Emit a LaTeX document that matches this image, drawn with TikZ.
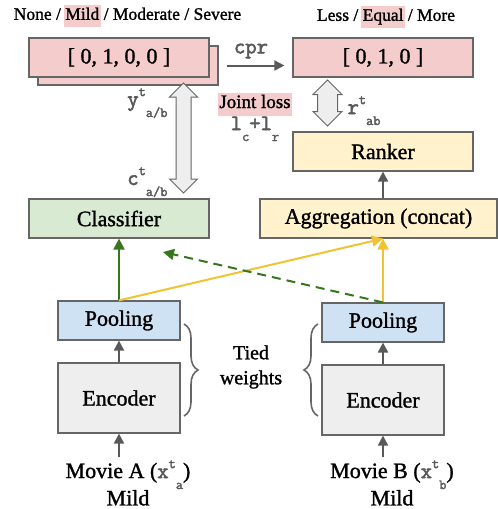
\documentclass[tikz,border=0pt]{standalone}
\usepackage{fontspec}
\setmainfont{Liberation Serif}[RawFeature={embolden=1.3}]
\setmonofont{Latin Modern Mono}[RawFeature={embolden=2.5}]
\usetikzlibrary{positioning,arrows.meta,shapes.arrows,decorations.pathreplacing}
\definecolor{pinkbox}{HTML}{F4CCCC}
\definecolor{greenbox}{HTML}{D9EAD3}
\definecolor{yellowbox}{HTML}{FFF2CC}
\definecolor{bluebox}{HTML}{CFE2F3}
\definecolor{graybox}{HTML}{EEEEEE}
\definecolor{edgegray}{HTML}{666666}
\definecolor{arrowgray}{HTML}{595959}
\definecolor{darkgreen}{HTML}{38761D}
\definecolor{gold}{HTML}{F1C232}
\newcommand{\hl}[1]{{\setlength{\fboxsep}{1.5pt}\kern-1.5pt\colorbox{pinkbox}{\strut #1}\kern-1.5pt}}
\newcommand{\tsup}[3]{\textcolor{arrowgray}{\texttt{#1}\raisebox{0.45em}{\fontsize{14}{14}\selectfont\texttt{#2}}\raisebox{-0.5em}{\fontsize{14}{14}\selectfont\texttt{#3}}}}

\begin{document}
\begin{tikzpicture}[x=1pt,y=-1pt,
		box/.style={draw=edgegray, line width=1.2pt, minimum width=180pt, minimum height=39pt, inner sep=0pt, font=\fontsize{22}{24}\selectfont},
		small box/.style={box, minimum width=122pt},
		gray arrow/.style={draw=arrowgray, line width=2pt, -{Triangle[length=10pt,width=10pt]}},
		loss arrow/.style={double arrow, draw=edgegray, line width=1pt, fill=graybox, rotate=90, double arrow head indent=0pt, text width=0pt}]
	\useasboundingbox (0,0) rectangle (498,509);
	% targets
	\node[box, fill=pinkbox] (clsBack) at (128,65.5) {};
	\node[box, fill=pinkbox] (clsOut) at (119,57.5) {[ 0, 1, 0, 0 ]};
	\node[box, fill=pinkbox] (rankOut) at (383,57.5) {[ 0, 1, 0 ]};
	\node[font=\fontsize{17.5}{19}\selectfont] (clsTitle) at (127.5,16) {None / \hl{Mild} / Moderate / Severe};
	\node[font=\fontsize{17.5}{19}\selectfont] (rankTitle) at (386,17) {Less / \hl{Equal} / More};
	% heads
	\node[box, fill=yellowbox] (ranker) at (383,151.5) {Ranker};
	\node[box, fill=greenbox] (classifier) at (119,218.5) {Classifier};
	\node[box, fill=yellowbox, minimum width=237pt] (agg) at (378.5,218.5) {Aggregation (concat)};
	% encoders
	\node[small box, fill=bluebox] (poolA) at (119,320.5) {Pooling};
	\node[small box, fill=bluebox] (poolB) at (383,322.5) {Pooling};
	\node[small box, fill=graybox, minimum height=70pt] (encA) at (119,398) {Encoder};
	\node[small box, fill=graybox, minimum height=70pt] (encB) at (383,400) {Encoder};
	\node[align=center, font=\fontsize{22}{25}\selectfont] (movA) at (128,483) {Movie A (\tsup{x}{t}{a})\\Mild};
	\node[align=center, font=\fontsize{22}{25}\selectfont] (movB) at (392,483) {Movie B (\tsup{x}{t}{b})\\Mild};
	\coordinate (inA) at (119,457);
	\coordinate (inB) at (383,457);
	\draw[gray arrow] (inA) -- (encA);
	\draw[gray arrow] (inB) -- (encB);
	\draw[gray arrow] (encA) -- (poolA);
	\draw[gray arrow] (encB) -- (poolB);
	\draw[gray arrow] (ranker.south |- agg.north) -- (ranker.south);
	% pooled features
	\coordinate (aggIn) at (poolB.north |- agg.south);
	\coordinate (dashEnd) at (163,252);
	\draw[line width=2pt, darkgreen, -{Triangle[length=11pt,width=11pt]}] (poolA.north) -- (classifier.south);
	\draw[line width=2pt, gold, -{Triangle[length=11pt,width=11pt]}] (poolA.north) -- (aggIn);
	\draw[line width=2pt, gold, -{Triangle[length=11pt,width=11pt]}] (poolB.north) -- (aggIn);
	\draw[line width=2pt, darkgreen, dash pattern=on 9pt off 6pt, -{Triangle[length=11pt,width=11pt]}] (poolB.north) -- (dashEnd);
	% tied weights
	\draw[edgegray, line width=1.6pt, decorate, decoration={brace, amplitude=14pt}] (184,324) -- (184,416);
	\draw[edgegray, line width=1.6pt, decorate, decoration={brace, amplitude=14pt}] (318,416) -- (318,324);
	\node[align=center, font=\fontsize{20}{25}\selectfont] (tied) at (251,367) {Tied\\weights};
	% losses
	\path (clsBack.east -| rankOut.west) coordinate (cprEnd);
	\draw[gray arrow] ([xshift=8pt]clsBack.east) -- ([xshift=-8pt]cprEnd);
	\node[font=\fontsize{22}{22}\selectfont\ttfamily, text=arrowgray] (cpr) at (251,51) {cpr};
	\node[loss arrow, minimum height=110pt, minimum width=27pt, inner sep=7pt, double arrow head extend=6.5pt] (clsLoss) at (183.5,138) {};
	\node[loss arrow, minimum height=46pt, minimum width=29pt, inner sep=9.5pt, double arrow head extend=4.5pt] (rankLoss) at (327.5,103) {};
	\node[anchor=base east, font=\fontsize{22}{22}\selectfont] (yLab) at (171,106) {\tsup{y}{t}{a/b}};
	\node[anchor=base east, font=\fontsize{22}{22}\selectfont] (cLab) at (171,185) {\tsup{c}{t}{a/b}};
	\node[anchor=base west, font=\fontsize{22}{22}\selectfont] (rLab) at (344,114) {\tsup{r}{t}{ab}};
	\node[font=\fontsize{19}{20}\selectfont] (joint) at (255,104) {\hl{Joint loss}};
	\node[anchor=base, font=\fontsize{22}{22}\selectfont] (lossSum) at (255,130) {\textcolor{arrowgray}{\texttt{l}\raisebox{-0.5em}{\fontsize{14}{14}\selectfont\texttt{c}}\texttt{+l}\raisebox{-0.5em}{\fontsize{14}{14}\selectfont\texttt{r}}}};
\end{tikzpicture}
\end{document}
